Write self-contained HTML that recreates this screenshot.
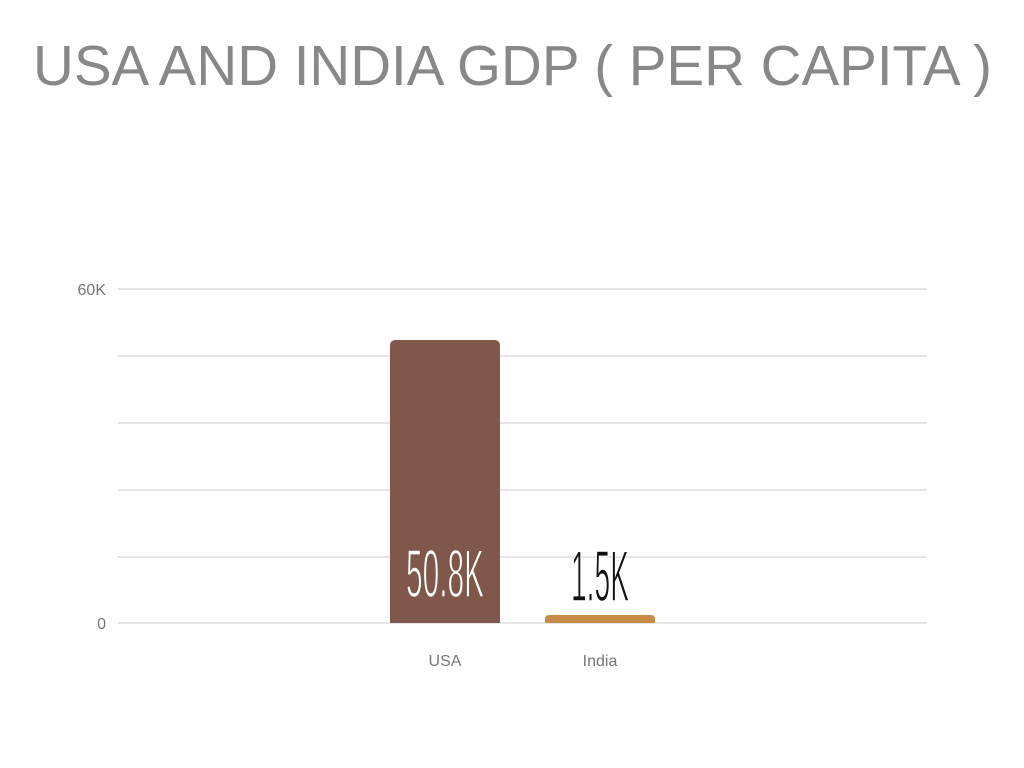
<!DOCTYPE html>
<html><head><style>body{margin:0;background:#fff;}svg{display:block}</style></head>
<body>
<svg width="1024" height="768" xmlns="http://www.w3.org/2000/svg">
<rect width="1024" height="768" fill="#fff"/>
<text x="33" y="85" font-family="Liberation Sans, sans-serif" font-size="57" fill="#888" textLength="959" lengthAdjust="spacingAndGlyphs">USA AND INDIA GDP ( PER CAPITA )</text>
<g stroke="#d6d6d6" stroke-width="1.3">
<line x1="118" y1="289" x2="927" y2="289"/>
<line x1="118" y1="356" x2="927" y2="356"/>
<line x1="118" y1="423" x2="927" y2="423"/>
<line x1="118" y1="490" x2="927" y2="490"/>
<line x1="118" y1="557" x2="927" y2="557"/>
<line x1="118" y1="623" x2="927" y2="623"/>
</g>
<g font-family="Liberation Sans, sans-serif" font-size="16" fill="#777">
<text x="106" y="295" text-anchor="end">60K</text>
<text x="106" y="629" text-anchor="end">0</text>
<text x="445" y="666" text-anchor="middle">USA</text>
<text x="600" y="666" text-anchor="middle">India</text>
</g>
<path d="M390,623 V346 Q390,340 396,340 H494 Q500,340 500,346 V623 Z" fill="#7f584b"/>
<path d="M545,623 V619 Q545,615 549,615 H651 Q655,615 655,619 V623 Z" fill="#c78d48"/>
<text x="445" y="597" font-family="Liberation Sans Narrow, Liberation Sans, sans-serif" font-size="68" fill="#fff" text-anchor="middle" textLength="78" lengthAdjust="spacingAndGlyphs" stroke="#7f584b" stroke-width="1.5">50.8K</text>
<text x="600" y="601" font-family="Liberation Sans Narrow, Liberation Sans, sans-serif" font-size="72" fill="#111" text-anchor="middle" textLength="58" lengthAdjust="spacingAndGlyphs" stroke="#fff" stroke-width="1.5" paint-order="normal">1.5K</text>
</svg>
</body></html>
